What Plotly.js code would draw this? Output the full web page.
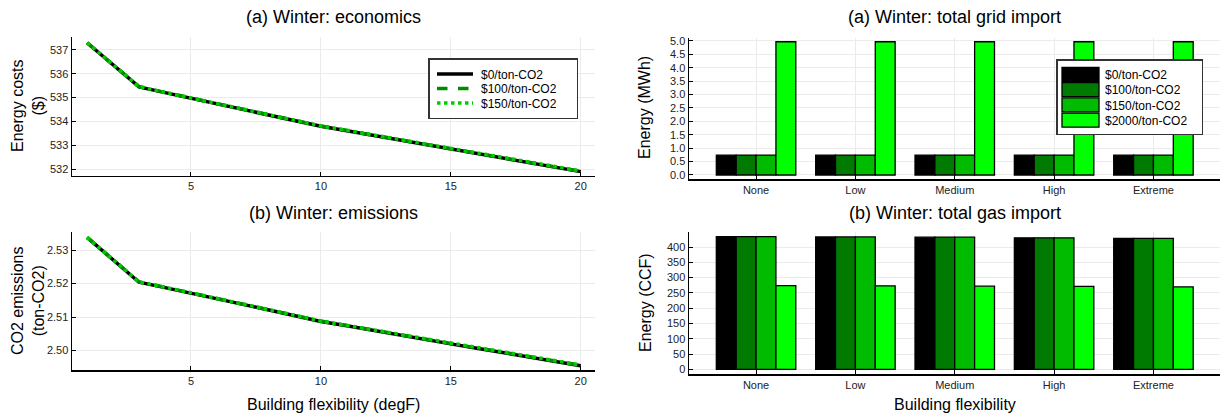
<!DOCTYPE html>
<html>
<head>
<meta charset="utf-8">
<script src="https://cdn.plot.ly/plotly-3.0.1.min.js"></script>
<style>
  html, body { margin: 0; padding: 0; background: #ffffff; }
  #chart { width: 1220px; height: 417px; }
</style>
</head>
<body>
<div id="chart"></div>
<script>
// Building flexibility sweep (degF)
const flexDegF = [1, 2, 3, 4, 5, 6, 7, 8, 9, 10, 11, 12, 13, 14, 15, 16, 17, 18, 19, 20];

// Winter energy costs ($) per carbon price
const cost0   = [537.30, 536.37, 535.45, 535.21, 534.97, 534.73, 534.50, 534.26, 534.03, 533.80,
                 533.61, 533.42, 533.23, 533.04, 532.85, 532.66, 532.47, 532.28, 532.09, 531.90];
const cost100 = [537.30, 536.37, 535.46, 535.22, 534.98, 534.74, 534.51, 534.27, 534.04, 533.81,
                 533.62, 533.43, 533.24, 533.05, 532.86, 532.67, 532.48, 532.29, 532.10, 531.91];
const cost150 = [537.30, 536.38, 535.46, 535.22, 534.98, 534.75, 534.51, 534.28, 534.05, 533.82,
                 533.63, 533.44, 533.25, 533.06, 532.87, 532.68, 532.50, 532.31, 532.12, 531.93];

// Winter CO2 emissions (ton-CO2) per carbon price
const co2_0   = [2.5338, 2.5271, 2.5204, 2.5188, 2.5172, 2.5155, 2.5138, 2.5121, 2.5104, 2.5087,
                 2.5074, 2.5060, 2.5047, 2.5033, 2.5020, 2.5007, 2.4994, 2.4981, 2.4968, 2.4955];
const co2_100 = [2.5338, 2.5271, 2.5205, 2.5189, 2.5172, 2.5156, 2.5139, 2.5122, 2.5105, 2.5088,
                 2.5075, 2.5061, 2.5048, 2.5034, 2.5021, 2.5008, 2.4995, 2.4982, 2.4969, 2.4956];
const co2_150 = [2.5338, 2.5272, 2.5205, 2.5189, 2.5173, 2.5156, 2.5139, 2.5122, 2.5105, 2.5088,
                 2.5075, 2.5062, 2.5049, 2.5035, 2.5022, 2.5009, 2.4996, 2.4983, 2.4970, 2.4957];

// Flexibility levels for the bar charts
const flexLevels = ["None", "Low", "Medium", "High", "Extreme"];

// Total grid import (MWh)
const grid0    = [0.74, 0.74, 0.74, 0.74, 0.74];
const grid100  = [0.74, 0.74, 0.74, 0.74, 0.74];
const grid150  = [0.74, 0.74, 0.74, 0.74, 0.74];
const grid2000 = [4.97, 4.97, 4.97, 4.97, 4.97];

// Total gas import (CCF)
const gas0    = [434, 433, 432, 430, 428];
const gas100  = [434, 433, 432, 430, 428];
const gas150  = [434, 433, 432, 430, 428];
const gas2000 = [274, 273, 272, 271, 270];

const lineNames = ["$0/ton-CO2", "$100/ton-CO2", "$150/ton-CO2"];
const barNames  = ["$0/ton-CO2", "$100/ton-CO2", "$150/ton-CO2", "$2000/ton-CO2"];

const lineColors = ["#000000", "#008a00", "#00cc00"];
const lineDashes = ["solid", "dash", "dot"];
const barColors  = ["#000000", "#007a00", "#00bb00", "#00ff00"];

const FONT = "Liberation Sans, Arial, Helvetica, sans-serif";
const W = 1220, H = 417;

const costSeries = [cost0, cost100, cost150];
const co2Series  = [co2_0, co2_100, co2_150];
const gridSeries = [grid0, grid100, grid150, grid2000];
const gasSeries  = [gas0, gas100, gas150, gas2000];

const traces = [];

costSeries.forEach((ys, i) => {
  traces.push({
    x: flexDegF, y: ys, type: "scatter", mode: "lines",
    name: lineNames[i], xaxis: "x", yaxis: "y",
    line: { color: lineColors[i], width: 3.5, dash: lineDashes[i] },
    legend: "legend", showlegend: true
  });
});
co2Series.forEach((ys, i) => {
  traces.push({
    x: flexDegF, y: ys, type: "scatter", mode: "lines",
    name: lineNames[i], xaxis: "x2", yaxis: "y2",
    line: { color: lineColors[i], width: 3.5, dash: lineDashes[i] },
    showlegend: false
  });
});
gridSeries.forEach((ys, i) => {
  traces.push({
    x: flexLevels, y: ys, type: "bar", name: barNames[i],
    xaxis: "x3", yaxis: "y3",
    marker: { color: barColors[i], line: { color: "#000000", width: 1.3 } },
    legend: "legend2", showlegend: true
  });
});
gasSeries.forEach((ys, i) => {
  traces.push({
    x: flexLevels, y: ys, type: "bar", name: barNames[i],
    xaxis: "x4", yaxis: "y4",
    marker: { color: barColors[i], line: { color: "#000000", width: 1.3 } },
    showlegend: false
  });
});

// pixel helpers for placing domains
const px = v => v / W;
const py = v => 1 - v / H;

const axisCommon = {
  showline: true, linecolor: "#000000", linewidth: 1.5, mirror: false,
  showgrid: true, gridcolor: "#ebebeb", gridwidth: 1,
  zeroline: false,
  ticks: "inside", ticklen: 4, tickcolor: "#000000", tickwidth: 1,
  tickfont: { family: FONT, size: 11, color: "#222222" }
};

// legend boxes (top-left corner in px, compact row layout)
const LEG1 = { x: 428, y: 58, w: 150, h: 61, first: 16, step: 14.5 };
const LEG2 = { x: 1056, y: 59, w: 147, h: 76, first: 15.5, step: 15.2 };

const layout = {
  width: W, height: H,
  margin: { l: 0, r: 0, t: 0, b: 0 },
  paper_bgcolor: "#ffffff", plot_bgcolor: "#ffffff",
  font: { family: FONT, color: "#000000" },
  showlegend: true,
  bargap: 0.2, bargroupgap: 0, barmode: "group",

  xaxis: Object.assign({}, axisCommon, {
    domain: [px(72), px(595)], anchor: "y",
    range: [0.42, 20.55], tickvals: [5, 10, 15, 20]
  }),
  yaxis: Object.assign({}, axisCommon, {
    domain: [py(175.7), py(37)], anchor: "x",
    range: [531.73, 537.54], tickvals: [532, 533, 534, 535, 536, 537]
  }),
  xaxis2: Object.assign({}, axisCommon, {
    domain: [px(72), px(595)], anchor: "y2",
    range: [0.42, 20.55], tickvals: [5, 10, 15, 20]
  }),
  yaxis2: Object.assign({}, axisCommon, {
    domain: [py(370), py(232)], anchor: "x2",
    range: [2.4942, 2.5354], tickvals: [2.50, 2.51, 2.52, 2.53],
    tickformat: ".2f"
  }),
  xaxis3: Object.assign({}, axisCommon, {
    domain: [px(689), 1], anchor: "y3",
    type: "category", range: [-0.675, 4.67]
  }),
  yaxis3: Object.assign({}, axisCommon, {
    domain: [py(179), py(38)], anchor: "x3",
    range: [-0.15, 5.11], dtick: 0.5, tick0: 0, tickformat: ".1f"
  }),
  xaxis4: Object.assign({}, axisCommon, {
    domain: [px(689), 1], anchor: "y4",
    type: "category", range: [-0.675, 4.67]
  }),
  yaxis4: Object.assign({}, axisCommon, {
    domain: [py(374), py(232)], anchor: "x4",
    range: [-15, 449], dtick: 50, tick0: 0
  }),

  legend: {
    x: px(LEG1.x), y: py(LEG1.y), xanchor: "left", yanchor: "top",
    bgcolor: "#ffffff", bordercolor: "#333333", borderwidth: 1.5,
    font: { family: FONT, size: 12, color: "#000000" },
    tracegroupgap: 0, itemwidth: 40
  },
  legend2: {
    x: px(LEG2.x), y: py(LEG2.y), xanchor: "left", yanchor: "top",
    bgcolor: "#ffffff", bordercolor: "#333333", borderwidth: 1.5,
    font: { family: FONT, size: 12, color: "#000000" },
    tracegroupgap: 0
  },

  annotations: [
    { text: "(a) Winter: economics", x: px(333.5), y: py(17), xref: "paper", yref: "paper",
      showarrow: false, font: { family: FONT, size: 18 }, xanchor: "center", yanchor: "middle" },
    { text: "(b) Winter: emissions", x: px(333.5), y: py(213), xref: "paper", yref: "paper",
      showarrow: false, font: { family: FONT, size: 18 }, xanchor: "center", yanchor: "middle" },
    { text: "(a) Winter: total grid import", x: px(954.5), y: py(17), xref: "paper", yref: "paper",
      showarrow: false, font: { family: FONT, size: 18 }, xanchor: "center", yanchor: "middle" },
    { text: "(b) Winter: total gas import", x: px(954.5), y: py(213), xref: "paper", yref: "paper",
      showarrow: false, font: { family: FONT, size: 18 }, xanchor: "center", yanchor: "middle" },

    { text: "Energy costs<br>($)", x: px(28), y: py(106), xref: "paper", yref: "paper",
      showarrow: false, textangle: -90, font: { family: FONT, size: 16 },
      xanchor: "center", yanchor: "middle" },
    { text: "CO2 emissions<br>(ton-CO2)", x: px(28), y: py(301), xref: "paper", yref: "paper",
      showarrow: false, textangle: -90, font: { family: FONT, size: 16 },
      xanchor: "center", yanchor: "middle" },
    { text: "Energy (MWh)", x: px(645), y: py(108), xref: "paper", yref: "paper",
      showarrow: false, textangle: -90, font: { family: FONT, size: 16 },
      xanchor: "center", yanchor: "middle" },
    { text: "Energy (CCF)", x: px(645), y: py(303), xref: "paper", yref: "paper",
      showarrow: false, textangle: -90, font: { family: FONT, size: 16 },
      xanchor: "center", yanchor: "middle" },

    { text: "Building flexibility (degF)", x: px(333.5), y: py(404), xref: "paper", yref: "paper",
      showarrow: false, font: { family: FONT, size: 16 }, xanchor: "center", yanchor: "middle" },
    { text: "Building flexibility", x: px(954.5), y: py(404), xref: "paper", yref: "paper",
      showarrow: false, font: { family: FONT, size: 16 }, xanchor: "center", yanchor: "middle" }
  ]
};

// Compact the legend rows and widen the bar swatches after drawing
function compactLegend(gd, cls, box, symbol) {
  const lg = gd.querySelector("g." + cls);
  if (!lg) return;
  lg.setAttribute("transform", "translate(" + box.x + "," + box.y + ")");
  const bg = lg.querySelector("rect.bg");
  if (bg) {
    bg.setAttribute("width", box.w - 1.5);
    bg.setAttribute("height", box.h - 1.5);
  }
  const scroll = lg.querySelector("g.scrollbox");
  if (scroll) { scroll.removeAttribute("clip-path"); scroll.setAttribute("transform", ""); }
  const items = lg.querySelectorAll("g.traces");
  items.forEach((g, i) => {
    g.setAttribute("transform", "translate(0," + (box.first + i * box.step) + ")");
    g.querySelectorAll("text").forEach(txt => {
      txt.setAttribute("x", symbol.textX);
      txt.querySelectorAll("tspan").forEach(ts => {
        if (ts.hasAttribute("x")) ts.setAttribute("x", symbol.textX);
      });
    });
    if (symbol.kind === "bar") {
      g.querySelectorAll("g.legendpoints path").forEach(p => {
        p.setAttribute("d", "M" + symbol.hw + "," + symbol.hh + "H-" + symbol.hw +
                            "V-" + symbol.hh + "H" + symbol.hw + "Z");
        p.setAttribute("transform", "translate(" + symbol.cx + ",0)");
      });
    } else {
      g.querySelectorAll("g.legendlines path").forEach(p => {
        p.setAttribute("d", "M" + symbol.x0 + ",0h" + symbol.len);
      });
    }
  });
}

function tidyLegends() {
  const gd = document.getElementById("chart");
  compactLegend(gd, "legend", LEG1, { kind: "line", x0: 9, len: 36, textX: 53 });
  compactLegend(gd, "legend2", LEG2, { kind: "bar", hw: 18.5, hh: 7, cx: 24.5, textX: 49 });
}

Plotly.newPlot("chart", traces, layout, { staticPlot: true, displayModeBar: false }).then(() => {
  tidyLegends();
  setTimeout(tidyLegends, 30);
  setTimeout(tidyLegends, 200);
});
</script>
</body>
</html>
